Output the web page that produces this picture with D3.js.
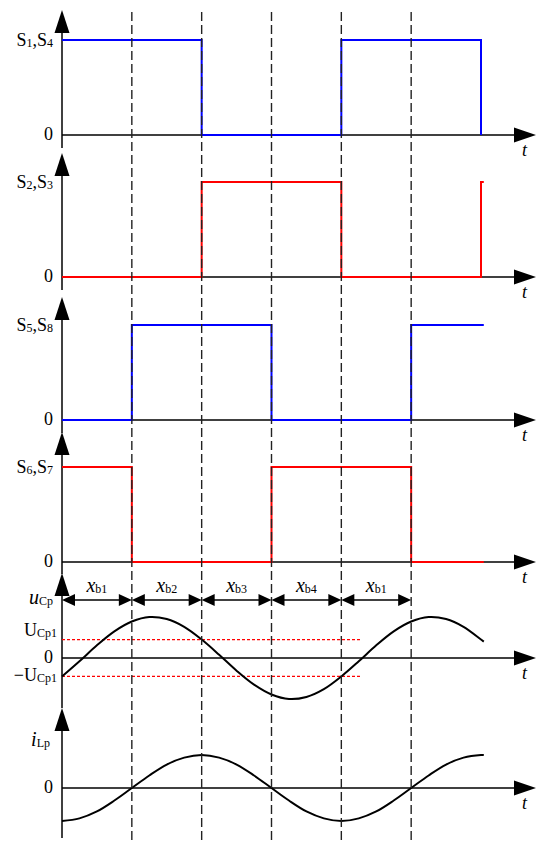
<!DOCTYPE html>
<html>
<head>
<meta charset="utf-8">
<script src="https://cdn.jsdelivr.net/npm/d3@7"></script>
<style>
  body { margin: 0; background: #fff; }
  svg { display: block; }
</style>
</head>
<body>
<div id="chart"></div>
<script>
// switching states, breakpoints as [t, level], t in units of one interval
var s14 = [[0,1],[1,1],[2,1],[2,0],[3,0],[4,0],[4,1],[5,1],[6,1],[6,0]];
var s23 = [[0,0],[1,0],[2,0],[2,1],[3,1],[4,1],[4,0],[5,0],[6,0],[6,1],[6.04,1]];
var s58 = [[0,0],[1,0],[1,1],[2,1],[3,1],[3,0],[4,0],[5,0],[5,1],[6,1],[6.04,1]];
var s67 = [[0,1],[1,1],[1,0],[2,0],[3,0],[3,1],[4,1],[5,1],[5,0],[6,0],[6.04,0]];

// capacitor voltage uCp (peak = 1), read every quarter interval
var uCp = [[0,-0.45],[0.25,-0.08],[0.5,0.31],[0.75,0.65],[1,0.89],[1.25,1.0],[1.5,0.95],[1.75,0.76],
  [2,0.45],[2.25,0.08],[2.5,-0.31],[2.75,-0.65],[3,-0.89],[3.25,-1.0],[3.5,-0.95],[3.75,-0.76],
  [4,-0.45],[4.25,-0.08],[4.5,0.31],[4.75,0.65],[5,0.89],[5.25,1.0],[5.5,0.95],[5.75,0.76],[6,0.45],[6.04,0.40]];
var uCp1 = 0.45;
var uCp1End = 4.27;

// inductor current iLp (peak = 1)
var iLp = [[0,-1],[0.25,-0.92],[0.5,-0.71],[0.75,-0.38],[1,0],[1.25,0.38],[1.5,0.71],[1.75,0.92],
  [2,1],[2.25,0.92],[2.5,0.71],[2.75,0.38],[3,0],[3.25,-0.38],[3.5,-0.71],[3.75,-0.92],
  [4,-1],[4.25,-0.92],[4.5,-0.71],[4.75,-0.38],[5,0],[5.25,0.38],[5.5,0.71],[5.75,0.92],[6,1],[6.04,1]];

var boundaries = [1, 2, 3, 4, 5];
var intervals = [[0,1,"b1"],[1,2,"b2"],[2,3,"b3"],[3,4,"b4"],[4,5,"b1"]];

var W = 550, H = 852;
var svg = d3.select("#chart").append("svg")
  .attr("width", W).attr("height", H)
  .style("font-family", "'Liberation Serif', 'DejaVu Serif', serif");

var x = d3.scaleLinear().domain([0, 6]).range([62, 481]);
var axisX0 = 62, axisXEnd = 536;

// panels: baseline, top of axis, low end of axis, scale for values
var panels = [
  {base: 135, top: 10, bottom: 148, y: d3.scaleLinear().domain([0,1]).range([135, 40])},
  {base: 277, top: 153, bottom: 290, y: d3.scaleLinear().domain([0,1]).range([277, 182])},
  {base: 420, top: 297, bottom: 433, y: d3.scaleLinear().domain([0,1]).range([420, 325])},
  {base: 562, top: 432, bottom: 574, y: d3.scaleLinear().domain([0,1]).range([562, 467])},
  {base: 658, top: 573, bottom: 708, y: d3.scaleLinear().domain([0,1]).range([658, 617])},
  {base: 788, top: 708, bottom: 838, y: d3.scaleLinear().domain([0,1]).range([788, 755])}
];

// axes with arrows
panels.forEach(function(p) {
  svg.append("line")
    .attr("x1", axisX0).attr("x2", axisXEnd - 18)
    .attr("y1", p.base).attr("y2", p.base)
    .attr("stroke", "#000").attr("stroke-width", 1.5);
  svg.append("path")
    .attr("d", "M" + axisXEnd + "," + p.base + "L" + (axisXEnd - 22) + "," + (p.base - 7.5) +
      "L" + (axisXEnd - 22) + "," + (p.base + 7.5) + "Z")
    .attr("fill", "#000");
  svg.append("line")
    .attr("x1", axisX0).attr("x2", axisX0)
    .attr("y1", p.top + 18).attr("y2", p.bottom)
    .attr("stroke", "#000").attr("stroke-width", 1.5);
  svg.append("path")
    .attr("d", "M" + axisX0 + "," + p.top + "L" + (axisX0 - 7.5) + "," + (p.top + 23) +
      "L" + (axisX0 + 7.5) + "," + (p.top + 23) + "Z")
    .attr("fill", "#000");
  svg.append("text")
    .attr("x", 522).attr("y", p.base + 21)
    .style("font-style", "italic").style("font-size", "18px")
    .text("t");
});

// step waveforms
var stepLine = function(p) {
  return d3.line().x(function(d) { return x(d[0]); }).y(function(d) { return p.y(d[1]); });
};
[[s14, "#0000ff"], [s23, "#ff0000"], [s58, "#0000ff"], [s67, "#ff0000"]].forEach(function(s, i) {
  svg.append("path")
    .attr("d", stepLine(panels[i])(s[0]))
    .attr("fill", "none").attr("stroke", s[1]).attr("stroke-width", 2);
});

// red dotted reference levels
[uCp1, -uCp1].forEach(function(v) {
  svg.append("line")
    .attr("x1", x(0)).attr("x2", x(uCp1End))
    .attr("y1", panels[4].y(v)).attr("y2", panels[4].y(v))
    .attr("stroke", "#ff0000").attr("stroke-width", 1.2)
    .attr("stroke-dasharray", "3,2");
});

// sinusoidal waveforms
var curveLine = function(p) {
  return d3.line().curve(d3.curveCatmullRom)
    .x(function(d) { return x(d[0]); }).y(function(d) { return p.y(d[1]); });
};
svg.append("path").attr("d", curveLine(panels[4])(uCp))
  .attr("fill", "none").attr("stroke", "#000").attr("stroke-width", 2);
svg.append("path").attr("d", curveLine(panels[5])(iLp))
  .attr("fill", "none").attr("stroke", "#000").attr("stroke-width", 2);

// dashed boundaries
boundaries.forEach(function(b) {
  svg.append("line")
    .attr("x1", x(b)).attr("x2", x(b))
    .attr("y1", 12).attr("y2", 840)
    .attr("stroke", "#222").attr("stroke-width", 1.4)
    .attr("stroke-dasharray", "9,4");
});

// interval arrows xb
var arrowY = 600;
intervals.forEach(function(iv) {
  var x1 = x(iv[0]), x2 = x(iv[1]);
  svg.append("line")
    .attr("x1", x1 + 8).attr("x2", x2 - 8)
    .attr("y1", arrowY).attr("y2", arrowY)
    .attr("stroke", "#000").attr("stroke-width", 1.5);
  svg.append("path")
    .attr("d", "M" + x1 + "," + arrowY + "L" + (x1 + 13) + "," + (arrowY - 6) + "L" + (x1 + 13) + "," + (arrowY + 6) + "Z" +
      "M" + x2 + "," + arrowY + "L" + (x2 - 13) + "," + (arrowY - 6) + "L" + (x2 - 13) + "," + (arrowY + 6) + "Z")
    .attr("fill", "#000");
  var t = svg.append("text")
    .attr("x", (x1 + x2) / 2).attr("y", 592)
    .attr("text-anchor", "middle");
  t.append("tspan").style("font-style", "italic").style("font-size", "20px").text("x");
  t.append("tspan").style("font-size", "12px").attr("dy", 1).text(iv[2]);
});

// left labels
function label(xr, yb, parts, size) {
  var t = svg.append("text").attr("x", xr).attr("y", yb).attr("text-anchor", "end");
  parts.forEach(function(pt) {
    var s = t.append("tspan").text(pt[0]);
    if (pt[1] === "sub") { s.style("font-size", "12px").attr("dy", 1); }
    else { s.style("font-size", size + "px").attr("dy", pt[2] || 0); }
    if (pt[3]) s.style("font-style", "italic");
  });
}
label(53, 46, [["S"], ["1", "sub"], [",", "", -1], ["S"], ["4", "sub"]], 18);
label(53, 188, [["S"], ["2", "sub"], [",", "", -1], ["S"], ["3", "sub"]], 18);
label(53, 331, [["S"], ["5", "sub"], [",", "", -1], ["S"], ["8", "sub"]], 18);
label(53, 473, [["S"], ["6", "sub"], [",", "", -1], ["S"], ["7", "sub"]], 18);
[140, 282, 425, 567, 663, 793].forEach(function(yb) {
  label(53, yb, [["0"]], 18);
});
label(53, 604, [["u", "", 0, true], ["Cp", "sub"]], 20);
label(57, 636, [["U"], ["Cp1", "sub"]], 18);
label(57, 681, [["\u2212U"], ["Cp1", "sub"]], 18);
label(50, 746, [["i", "", 0, true], ["Lp", "sub"]], 20);
</script>
</body>
</html>
